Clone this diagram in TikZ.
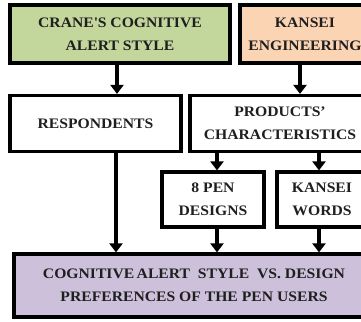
\documentclass[tikz,border=0pt]{standalone}
\usepackage{fontspec}
\setmainfont{Liberation Serif}[FakeStretch=1.08]
\usetikzlibrary{arrows.meta}
\definecolor{boxgreen}{HTML}{C3D69B}
\definecolor{boxpeach}{HTML}{FBD4B4}
\definecolor{boxlilac}{HTML}{CCC0DA}
\tikzset{
  block/.style={draw=black, line width=3.2pt, align=center, inner sep=0pt,
    font=\bfseries\fontsize{14.5}{23}\selectfont, text=black!88},
  flow/.style={line width=3.2pt, -{Triangle[length=9pt,width=13pt]}},
}
\begin{document}
\begin{tikzpicture}[x=1pt,y=-1pt]
\useasboundingbox (0,0) rectangle (361,321);
\clip (0,0) rectangle (361,321);
% top row
\node[block, fill=boxgreen, minimum width=220pt, minimum height=58pt] (crane) at (120,34) {CRANE\textquotesingle S COGNITIVE\\ALERT STYLE};
\node[block, fill=boxpeach, minimum width=130pt, minimum height=58pt] (kansei) at (305,34) {KANSEI\\ENGINEERING};
% middle row
\node[block, fill=white, minimum width=171pt, minimum height=56pt] (resp) at (95.5,123.5) {RESPONDENTS};
\node[block, fill=white, minimum width=180pt, minimum height=56pt] (prod) at (280,123.5) {PRODUCTS’\\CHARACTERISTICS};
% third row
\node[block, fill=white, minimum width=102pt, minimum height=55pt] (pen) at (213,199.5) {8 PEN\\DESIGNS};
\node[block, fill=white, minimum width=90pt, minimum height=55pt] (words) at (322,199.5) {KANSEI\\WORDS};
% bottom
\node[block, fill=boxlilac, minimum width=360pt, minimum height=63pt] (pref) at (194,285.5) {COGNITIVE\,ALERT\ \ STYLE\ \ VS. DESIGN\\PREFERENCES OF THE PEN USERS};
% connectors
\draw[flow] (crane.south -| 117,0) -- (resp.north -| 117,0);
\draw[flow] (kansei.south -| 300,0) -- (prod.north -| 300,0);
\draw[flow] (prod.south -| 217,0) -- (pen.north -| 217,0);
\draw[flow] (prod.south -| 319,0) -- (words.north -| 319,0);
\draw[flow] (resp.south -| 116,0) -- (pref.north -| 116,0);
\draw[flow] (pen.south -| 217,0) -- (pref.north -| 217,0);
\draw[flow] (words.south -| 319,0) -- (pref.north -| 319,0);
\end{tikzpicture}
\end{document}
